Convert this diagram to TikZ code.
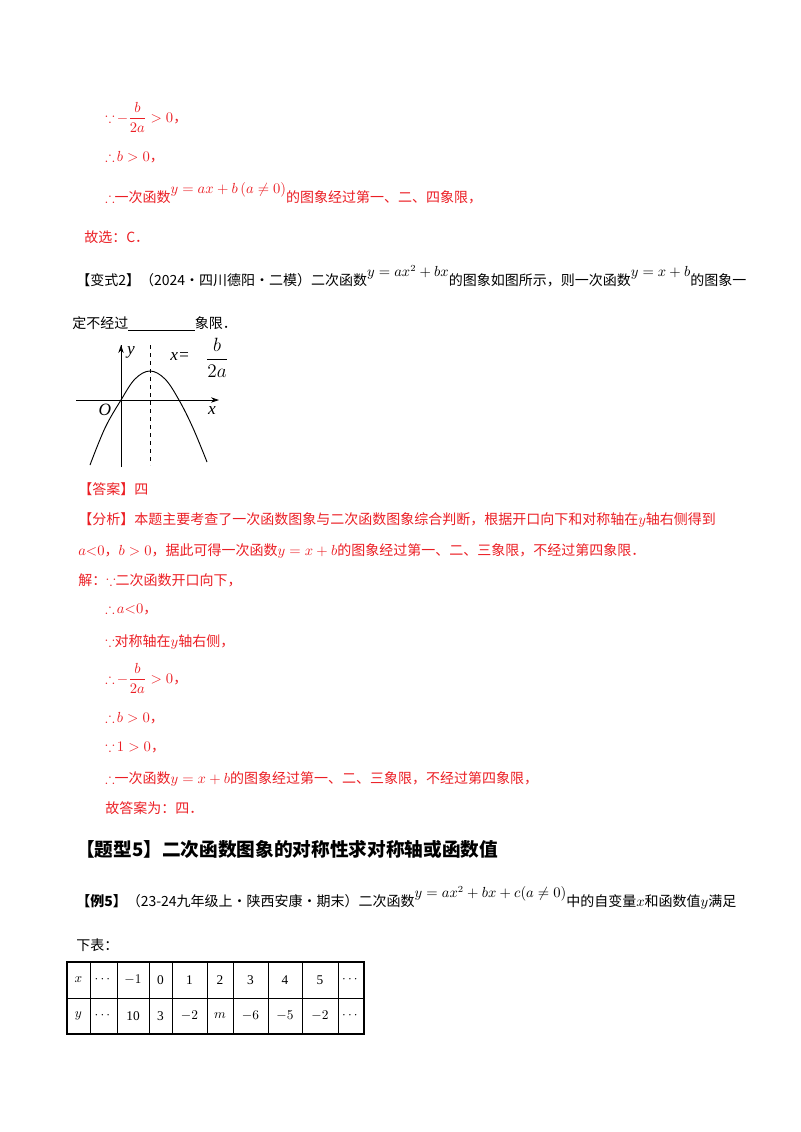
\documentclass[tikz,border=0pt]{standalone}
\usepackage{amsmath,amssymb}
\usepackage{fontspec}
\setmainfont{Liberation Serif}
\newfontfamily\cjk{Noto Sans CJK SC}
\usetikzlibrary{arrows.meta}
\definecolor{ansred}{RGB}{235,30,36}
\newcommand{\up}[1]{\raisebox{1.1ex}{$#1$}}
\newcommand{\bec}{$\boldsymbol{\because}$}
\newcommand{\thr}{$\boldsymbol{\therefore}$}
\begin{document}
\begin{tikzpicture}[x=0.75pt,y=-0.75pt,
  txt/.style={anchor=base west,inner sep=0pt,font=\cjk\fontsize{10.5pt}{12pt}\selectfont},
  rtxt/.style={txt,text=ansred},
  cell/.style={anchor=center,inner sep=0pt,font=\fontsize{10pt}{12pt}\selectfont}]
\useasboundingbox (0,0) rectangle (800,1132);
% top part
\node[rtxt] (l1) at (105,122) {\bec\,$-\dfrac{b}{2a}>0$，};
\node[rtxt] (l2) at (105,161) {\thr\,$b>0$，};
\node[rtxt] (l3) at (105,202) {\thr 一次函数\up{y=ax+b\left(a\neq0\right)}的图象经过第一、二、四象限，};
\node[rtxt] (l4) at (84,242) {故选：C．};
\node[txt] (v2) at (76,285) {【变式2】（2024·四川德阳·二模）二次函数\up{y=ax^2+bx}的图象如图所示，则一次函数\up{y=x+b}的图象一};
\node[txt] (v2b) at (72,328) {定不经过\underline{\hspace{50pt}}象限．};
% graph
\coordinate (o) at (121,400);
\coordinate (ytop) at (121,345);
\coordinate (ybot) at (121,467);
\coordinate (xl) at (76,400);
\coordinate (xr) at (219,400);
\draw[line width=0.6pt] (ybot) -- (ytop);
\draw[line width=0.6pt,-{Stealth[length=6pt,width=4pt]}] (121,360) -- (ytop);
\draw[line width=0.6pt,-{Stealth[length=6pt,width=4pt]}] (xl) -- (xr);
\draw[line width=0.6pt,dashed] (150,345) -- (150,465);
\draw[line width=0.7pt] plot[smooth,tension=0.6] coordinates {(90,465) (105,428) (121,400) (135,379) (150,371) (165,379) (179,400) (193,428) (207,462)};
\node[font=\itshape\fontsize{13pt}{14pt}\selectfont] (ly) at (131,352) {y};
\node[font=\itshape\fontsize{13pt}{14pt}\selectfont] (lO) at (105,410) {O};
\node[font=\itshape\fontsize{13pt}{14pt}\selectfont] (lx) at (212,411) {x};
\node[font=\itshape\fontsize{13pt}{14pt}\selectfont] (lxe) at (180,357) {x=};
\node[font=\fontsize{14pt}{15pt}\selectfont] (frac) at (217,358) {$\dfrac{b}{2a}$};
% answer
\node[rtxt] (a1) at (78,494) {【答案】四};
\node[rtxt] (a2) at (78,524) {【分析】本题主要考查了一次函数图象与二次函数图象综合判断，根据开口向下和对称轴在$y$轴右侧得到};
\node[rtxt] (a3) at (78,555) {$a{<}0$，$b>0$，据此可得一次函数$y=x+b$的图象经过第一、二、三象限，不经过第四象限．};
\node[rtxt] (a4) at (78,585) {解：\bec 二次函数开口向下，};
\node[rtxt] (a5) at (105,613) {\thr\,$a{<}0$，};
\node[rtxt] (a6) at (105,646) {\bec 对称轴在$y$轴右侧，};
\node[rtxt] (a7) at (105,683) {\thr\,$-\dfrac{b}{2a}>0$，};
\node[rtxt] (a8) at (105,722) {\thr\,$b>0$，};
\node[rtxt] (a9) at (105,751) {\bec\,$1>0$，};
\node[rtxt] (a10) at (105,783) {\thr 一次函数$y=x+b$的图象经过第一、二、三象限，不经过第四象限，};
\node[rtxt] (a11) at (105,813) {故答案为：四．};
% heading
\node[txt,font=\cjk\bfseries\fontsize{14pt}{16pt}\selectfont] (h5) at (76,856) {【题型5】二次函数图象的对称性求对称轴或函数值};
\node[txt] (e5) at (76,906) {\textbf{【例5】}（23-24九年级上·陕西安康·期末）二次函数\up{y=ax^2+bx+c(a\neq0)}中的自变量$x$和函数值$y$满足};
\node[txt] (e5b) at (76,950) {下表：};
% table
\draw[line width=0.8pt] (67,962) rectangle (364,1034);
\draw[line width=0.5pt] (67,998) -- (364,998);
\foreach \c in {90,117,149,172,207,233,268,302,338} \draw[line width=0.5pt] (\c,962) -- (\c,1034);
\foreach \v/\t/\u [count=\i] in {78.5/$x$/$y$,103.5/$\cdots$/$\cdots$,133/$-1$/10,160.5/0/3,189.5/1/$-2$,220/2/$m$,250.5/3/$-6$,285/4/$-5$,320/5/$-2$,351/$\cdots$/$\cdots$}{
  \node[cell] (r1c\i) at (\v,980) {\t};
  \node[cell] (r2c\i) at (\v,1016) {\u};
}
\end{tikzpicture}
\end{document}
